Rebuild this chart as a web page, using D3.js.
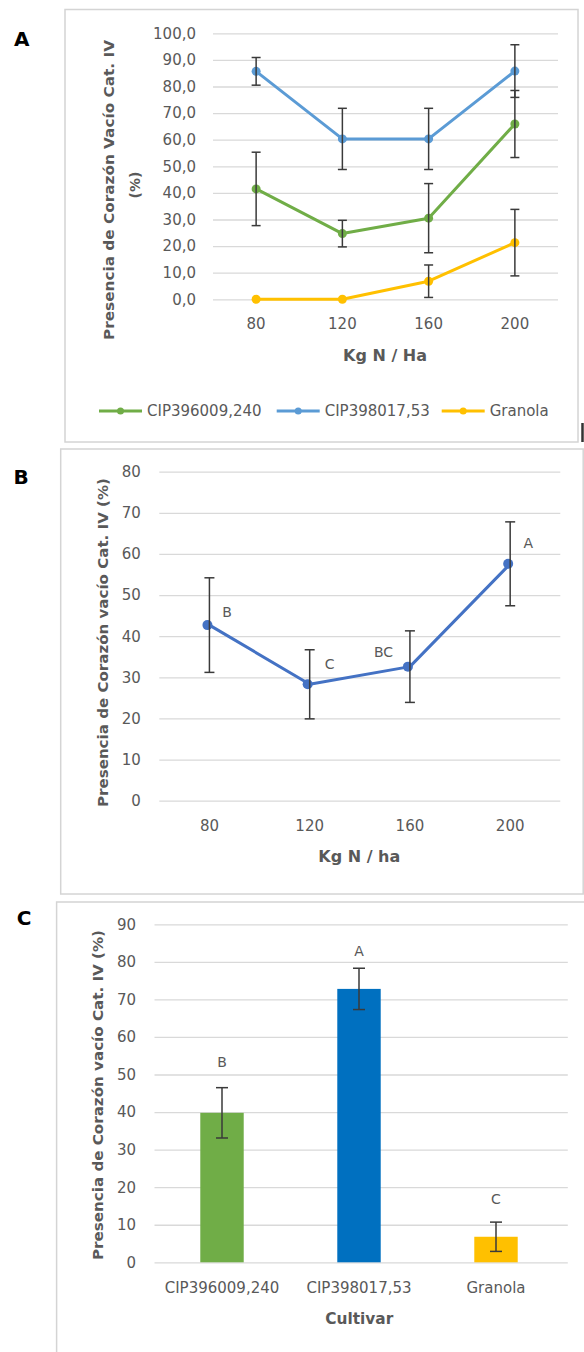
<!DOCTYPE html>
<html><head><meta charset="utf-8">
<script src="https://cdn.jsdelivr.net/npm/d3@7"></script>
<style>body{margin:0;background:#fff}svg{display:block}</style>
</head><body>
<svg id="c" width="584" height="1352"></svg>
<script>
// ---------- data ----------
const doses = ["80", "120", "160", "200"];
const seriesNamesA = ["CIP396009,240", "CIP398017,53", "Granola"];
const greenA = [41.5, 24.7, 30.5, 65.9];
const greenErrA = [13.8, 5.0, 13.0, 12.6];
const blueA = [85.7, 60.3, 60.3, 85.8];
const blueErrA = [5.2, 11.5, 11.5, 9.9];
const orangeA = [0, 0, 6.8, 21.3];
const orangeErrA = [0, 0, 6.1, 12.5];
const ticksA = [0, 10, 20, 30, 40, 50, 60, 70, 80, 90, 100];

const meanB = [42.7, 28.3, 32.6, 57.6];
const errB = [11.5, 8.4, 8.7, 10.2];
const lettersB = ["B", "C", "BC", "A"];
const ticksB = [0, 10, 20, 30, 40, 50, 60, 70, 80];

const cultivars = ["CIP396009,240", "CIP398017,53", "Granola"];
const meanC = [39.8, 72.8, 6.8];
const errC = [6.7, 5.5, 3.9];
const lettersC = ["B", "A", "C"];
const ticksC = [0, 10, 20, 30, 40, 50, 60, 70, 80, 90];

// ---------- styles ----------
const FONT = "'DejaVu Sans', sans-serif";
const GRAY = "#595959", GRID = "#D9D9D9", ERR = "#3a3a3a", BORDER = "#D4D4D4";
const colA = ["#70AD47", "#5B9BD5", "#FFC000"];
const colB = "#4472C4";
const colC = ["#70AD47", "#0070C0", "#FFC000"];

const svg = d3.select("#c");
svg.append("rect").attr("width", 584).attr("height", 1352).attr("fill", "#fff");

// panel frames
svg.append("rect").attr("x", 65).attr("y", 9.5).attr("width", 513).attr("height", 432.5)
  .attr("fill", "none").attr("stroke", BORDER).attr("stroke-width", 1.5);
svg.append("line").attr("x1", 582.5).attr("x2", 582.5).attr("y1", 423).attr("y2", 442)
  .attr("stroke", "#333").attr("stroke-width", 2.5);
svg.append("rect").attr("x", 60.7).attr("y", 449).attr("width", 522.5).attr("height", 445)
  .attr("fill", "none").attr("stroke", BORDER).attr("stroke-width", 1.5);
svg.append("path").attr("d", "M56.6,1352V902H586").attr("fill", "none")
  .attr("stroke", BORDER).attr("stroke-width", 1.5);

function panelLabel(t, x, y) {
  svg.append("text").attr("x", x).attr("y", y).attr("text-anchor", "middle")
    .attr("font-family", FONT).attr("font-weight", "bold").attr("font-size", 20)
    .attr("fill", "#000").text(t);
}
panelLabel("A", 21.7, 45.5);
panelLabel("B", 21, 483.5);
panelLabel("C", 24.2, 924.5);

function yGrid(y, ticks, x0, x1, fmt, pad) {
  const g = svg.append("g").attr("transform", `translate(${x0},0)`)
    .call(d3.axisLeft(y).tickValues(ticks).tickSize(-(x1 - x0)).tickPadding(pad).tickFormat(fmt));
  g.select(".domain").remove();
  g.attr("font-family", FONT).attr("font-size", 15);
  g.selectAll("line").attr("stroke", GRID).attr("stroke-width", 1.3);
  g.selectAll("text").attr("fill", GRAY);
  return g;
}
function xLabels(x, y0, pad) {
  const g = svg.append("g").attr("transform", `translate(0,${y0})`)
    .call(d3.axisBottom(x).tickSize(0).tickPadding(pad));
  g.select(".domain").remove();
  g.attr("font-family", FONT).attr("font-size", 15);
  g.selectAll("text").attr("fill", GRAY);
  return g;
}
function title(t, x, y, len, rot, size) {
  const el = svg.append("text")
    .attr("transform", rot ? `translate(${x},${y}) rotate(-90)` : `translate(${x},${y})`)
    .attr("text-anchor", "middle").attr("font-family", FONT).attr("font-weight", "bold")
    .attr("font-size", size || 14).attr("fill", GRAY).text(t);
  if (len) el.attr("textLength", len).attr("lengthAdjust", "spacingAndGlyphs");
  return el;
}
function errorBars(g, xs, means, errs, y, half) {
  means.forEach((m, i) => {
    if (!errs[i]) return;
    const x = xs[i], yt = y(m + errs[i]), yb = y(Math.max(0, m - errs[i]));
    g.append("line").attr("x1", x).attr("x2", x).attr("y1", yt).attr("y2", yb)
      .attr("stroke", ERR).attr("stroke-width", 1.5);
    [yt, yb].forEach(yy => g.append("line").attr("x1", x - half).attr("x2", x + half)
      .attr("y1", yy).attr("y2", yy).attr("stroke", ERR).attr("stroke-width", 1.5));
  });
}

// ---------- Panel A ----------
const xA = d3.scaleBand().domain(doses).range([213, 558]);
const yA = d3.scaleLinear().domain([0, 100]).range([299.3, 33.3]);
yGrid(yA, ticksA, 213, 558, d => d3.format(".1f")(d).replace(".", ","), 17);
xLabels(xA, 299.3, 19);
title("Presencia de Corazón Vacío Cat. IV", 113.5, 190, 300, true, 14);
title("(%)", 140, 185, null, true, 14);
title("Kg N / Ha", 385, 360.5, 84, false, 15);

const cxA = doses.map(d => xA(d) + xA.bandwidth() / 2);
const gA = svg.append("g");
const seriesA = [greenA, blueA, orangeA];
const errsA = [greenErrA, blueErrA, orangeErrA];
const lineA = d3.line().x((d, i) => cxA[i]).y(d => yA(d));
seriesA.forEach((s, k) => {
  gA.append("path").attr("d", lineA(s)).attr("fill", "none").attr("stroke", colA[k])
    .attr("stroke-width", 3).attr("stroke-linejoin", "round");
  s.forEach((v, i) => gA.append("circle").attr("cx", cxA[i]).attr("cy", yA(v)).attr("r", 4.5).attr("fill", colA[k]));
});
seriesA.forEach((s, k) => errorBars(gA, cxA, s, errsA[k], yA, 4.5));

// legend A
const legX = [99, 276.7, 441.7];
seriesNamesA.forEach((n, k) => {
  const x0 = legX[k];
  svg.append("line").attr("x1", x0).attr("x2", x0 + 43).attr("y1", 411).attr("y2", 411)
    .attr("stroke", colA[k]).attr("stroke-width", 3);
  svg.append("circle").attr("cx", x0 + 21.5).attr("cy", 411).attr("r", 3.5).attr("fill", colA[k]);
  svg.append("text").attr("x", x0 + 48).attr("y", 416.4).attr("font-family", FONT)
    .attr("font-size", 15).attr("fill", GRAY).text(n);
});

// ---------- Panel B ----------
const xB = d3.scaleBand().domain(doses).range([159.3, 560.3]);
const yB = d3.scaleLinear().domain([0, 80]).range([800.7, 471.7]);
yGrid(yB, ticksB, 159.3, 560.3, d3.format("d"), 18.5);
xLabels(xB, 800.7, 20);
title("Presencia de Corazón vacío Cat. IV (%)", 107.5, 642.5, 329, true, 14);
title("Kg N / ha", 359.3, 862, 82, false, 15);
const cxB = doses.map(d => xB(d) + xB.bandwidth() / 2);
const gB = svg.append("g");
gB.append("path").attr("d", d3.line().x((d, i) => cxB[i]).y(d => yB(d))(meanB))
  .attr("fill", "none").attr("stroke", colB).attr("stroke-width", 3).attr("stroke-linejoin", "round");
meanB.forEach((v, i) => gB.append("circle").attr("cx", cxB[i] - 2).attr("cy", yB(v)).attr("r", 5).attr("fill", colB));
errorBars(gB, cxB, meanB, errB, yB, 5);
const offB = [[17.6, -13], [20, -20.3], [-26.4, -15], [18, -20.7]];
lettersB.forEach((t, i) => svg.append("text").attr("x", cxB[i] + offB[i][0]).attr("y", yB(meanB[i]) + offB[i][1] + 5)
  .attr("text-anchor", "middle").attr("font-family", FONT).attr("font-size", 14).attr("fill", GRAY).text(t));

// ---------- Panel C ----------
const xC = d3.scaleBand().domain(cultivars).range([153.5, 564.5]);
const yC = d3.scaleLinear().domain([0, 90]).range([1262.3, 924.3]);
yGrid(yC, ticksC, 154.5, 567.8, d3.format("d"), 18.5);
xLabels(xC, 1262.3, 20);
title("Presencia de Corazón vacío Cat. IV (%)", 102.5, 1095, 330, true, 14);
title("Cultivar", 359.3, 1323.5, 68, false, 15);
const cxC = cultivars.map(d => xC(d) + xC.bandwidth() / 2);
const bw = xC.bandwidth() * 0.317;
const gC = svg.append("g");
meanC.forEach((v, i) => gC.append("rect").attr("x", cxC[i] - bw / 2).attr("y", yC(v))
  .attr("width", bw).attr("height", yC(0) - yC(v)).attr("fill", colC[i]));
errorBars(gC, cxC, meanC, errC, yC, 6);
const offC = [25.7, 17.3, 22.7];
lettersC.forEach((t, i) => svg.append("text").attr("x", cxC[i]).attr("y", yC(meanC[i] + errC[i]) - offC[i] + 5)
  .attr("text-anchor", "middle").attr("font-family", FONT).attr("font-size", 14).attr("fill", GRAY).text(t));
</script>
</body></html>
